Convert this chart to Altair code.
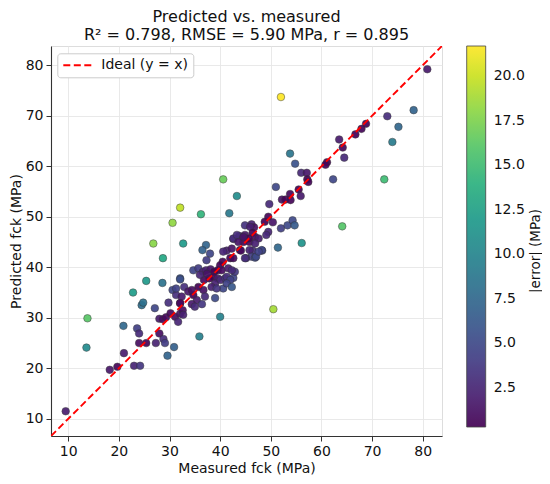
import altair as alt
import pandas as pd

measured = [
    9.5, 13.8, 13.6, 18.2, 19.7, 21.0, 20.9, 23.0, 24.2, 23.6, 24.0, 24.0, 25.4, 22.8, 24.5, 24.8,
    25.4, 27.1, 26.8, 28.7, 28.6, 30.6, 32.1, 36.2, 41.8, 40.6, 43.3, 32.7, 32.1, 28.0, 28.7, 29.3,
    28.0, 28.8, 27.3, 29.1, 29.6, 30.9, 35.9, 40.0, 50.5, 29.8, 30.6, 31.3, 32.1, 30.2, 31.1, 32.1,
    32.6, 31.7, 32.7, 39.0,
    52.0, 80.9, 78.2, 73.0, 75.2, 74.0, 68.8, 67.9, 66.7, 63.5, 64.2, 64.5, 61.1, 60.8, 62.3, 72.4,
    64.1, 53.8, 54.8, 56.0, 57.1, 57.2, 57.4, 51.0, 55.5, 55.9, 53.8, 52.2, 52.9, 53.9, 49.7, 49.5,
    48.8, 50.4, 52.0, 53.3, 54.3, 54.7, 56.1, 51.4, 48.3, 46.4, 46.2, 46.7, 49.5, 49.1, 42.6, 45.8,
    43.9, 37.2, 36.5, 38.0, 37.3,
    34.7, 35.7, 36.6, 37.2, 38.1, 38.8, 39.5, 38.7, 37.9, 36.8, 36.0, 39.5, 39.0, 38.3, 40.1, 41.0,
    41.3, 40.6, 39.3, 42.6, 42.0, 41.3, 42.3, 32.1, 32.9, 33.7, 34.7, 34.4, 35.7, 36.7, 37.0, 35.4,
    34.4, 32.4, 32.1, 36.4, 35.0, 40.5, 40.0, 40.3, 41.6, 41.3, 40.6, 42.3, 45.8, 46.2, 46.9, 48.2,
    43.8, 42.6, 44.9, 45.9, 46.4, 46.9, 44.9, 45.6, 47.6, 46.9, 44.6, 43.6,
    47.1, 45.1, 42.9, 42.3, 42.0, 42.6, 44.1, 44.9, 47.6, 43.3, 44.6, 31.3, 37.4,
]
predicted = [
    11.5, 29.9, 24.1, 19.7, 20.3, 23.0, 28.4, 20.5, 20.5, 27.9, 26.9, 25.0, 25.0, 35.0, 32.5, 33.0,
    37.3, 31.9, 44.7, 41.8, 36.9, 48.8, 51.8, 50.5, 50.7, 57.4, 54.1, 44.7, 37.8, 29.8, 29.7, 30.1,
    26.9, 25.8, 25.0, 25.0, 22.5, 24.2, 26.3, 30.2, 31.7, 33.0, 35.5, 34.5, 32.9, 30.9, 30.2, 30.8,
    31.5, 29.2, 30.6, 33.9,
    73.7, 79.2, 71.1, 69.9, 67.8, 64.8, 68.4, 67.4, 66.3, 65.3, 63.7, 61.7, 60.8, 60.3, 57.4, 57.4,
    48.1, 62.5, 60.5, 58.7, 58.7, 57.4, 56.9, 55.9, 55.4, 54.1, 54.5, 53.4, 53.4, 53.3, 52.5, 50.0,
    49.0, 48.9, 47.7, 48.3, 49.3, 48.3, 44.8, 43.9, 43.3, 43.3, 48.5, 47.9, 47.0, 46.4, 45.6, 45.0,
    43.4, 44.4, 43.4, 42.7, 41.4,
    39.4, 39.8, 39.1, 39.4, 39.6, 39.1, 39.4, 38.1, 37.8, 37.5, 38.5, 37.8, 36.8, 36.1, 37.5, 37.8,
    38.1, 35.8, 35.8, 37.9, 37.5, 36.8, 36.1, 37.6, 36.1, 35.2, 34.5, 35.5, 36.1, 35.5, 34.2, 33.5,
    32.7, 34.2, 32.9, 32.7, 32.2, 41.1, 40.4, 39.4, 39.8, 43.3, 43.1, 43.7, 43.4, 42.1, 41.9, 43.4,
    46.2, 45.7, 48.3, 48.0, 46.8, 46.0, 46.4, 45.7, 45.7, 44.7, 45.0, 45.0,
    42.1, 41.8, 39.1, 39.4, 41.8, 41.8, 43.3, 41.8, 43.1, 46.4, 46.0, 35.8, 38.7,
]

lo, hi = 6.6, 83.8
ticks = [10, 20, 30, 40, 50, 60, 70, 80]
cbar_ticks = [2.5, 5.0, 7.5, 10.0, 12.5, 15.0, 17.5, 20.0]
err_domain = [0.3, 21.7]
cbar_title = ["|error| (MPa)"]

df = pd.DataFrame({"measured": measured, "predicted": predicted})
df["err"] = (df["predicted"] - df["measured"]).abs()

ideal = pd.DataFrame({"x": [lo, hi], "y": [lo, hi], "series": ["Ideal (y = x)"] * 2})

FONT = "DejaVu Sans"
FS = 14
xscale = alt.Scale(domain=[lo, hi], nice=False, zero=False)
yscale = alt.Scale(domain=[lo, hi], nice=False, zero=False)

axis_common = dict(
    values=ticks, grid=True, gridColor="#e6e6e6", gridWidth=0.9,
    domainColor="#333333", domainWidth=1.1, tickColor="#333333", tickSize=5, tickWidth=1,
    labelFont=FONT, labelFontSize=FS, labelColor="#111111", labelPadding=3,
    titleFont=FONT, titleFontSize=FS, titleFontWeight="normal", titleColor="#111111",
)

points = alt.Chart(df).mark_circle(size=58, opacity=0.92, stroke="#333333", strokeWidth=0.5).encode(
    x=alt.X("measured:Q", scale=xscale,
            axis=alt.Axis(title="Measured fck (MPa)", titlePadding=3, **axis_common)),
    y=alt.Y("predicted:Q", scale=yscale,
            axis=alt.Axis(title="Predicted fck (MPa)", titlePadding=2, **axis_common)),
    color=alt.Color(
        "err:Q",
        scale=alt.Scale(scheme="viridis", domain=err_domain, clamp=True),
        legend=alt.Legend(
            title=None, orient="none", legendX=415.7, legendY=0,
            direction="vertical", gradientLength=381, gradientThickness=19,
            gradientStrokeColor="#333333", gradientStrokeWidth=0.8,
            values=cbar_ticks, format=".1f", labelFont=FONT, labelFontSize=FS,
            labelColor="#111111", labelOffset=8, padding=0,
        ),
    ),
)

line = alt.Chart(ideal).mark_line(color="red", strokeWidth=1.9, clip=True).encode(
    x=alt.X("x:Q", scale=xscale),
    y=alt.Y("y:Q", scale=yscale),
    strokeDash=alt.StrokeDash(
        "series:N",
        scale=alt.Scale(domain=["Ideal (y = x)"], range=[[7, 3.5]]),
        legend=alt.Legend(
            title=None, orient="none", legendX=6.3, legendY=7.3,
            fillColor="white", strokeColor="#cccccc", cornerRadius=3, padding=5,
            clipHeight=14,
            symbolType="stroke", symbolSize=784, symbolStrokeColor="red", symbolStrokeWidth=1.9,
            labelFont=FONT, labelFontSize=FS, labelColor="#111111", labelOffset=9,
        ),
    ),
)

cbar_label = alt.Chart(pd.DataFrame({"t": cbar_title})).mark_text(
    angle=270, font=FONT, fontSize=13.5, color="#111111", align="center", baseline="middle"
).encode(text="t:N", x=alt.value(484.5), y=alt.value(205))

chart = alt.layer(points, line, cbar_label).resolve_legend(color="independent").properties(
    width=391, height=390,
    autosize=alt.AutoSizeParams(type="none"),
    padding={"left": 43, "top": 38, "right": 100, "bottom": 40},
    title=alt.TitleParams(
        text=["Predicted vs. measured", "R² = 0.798, RMSE = 5.90 MPa, r = 0.895"],
        font=FONT, fontSize=16, fontWeight="normal", color="#111111",
        lineHeight=18.4, offset=3, anchor="middle",
    ),
).configure_view(stroke="#333333", strokeWidth=1.1).configure(background="white")

chart.save("out.html", embed_options={"renderer": "svg", "actions": False})
